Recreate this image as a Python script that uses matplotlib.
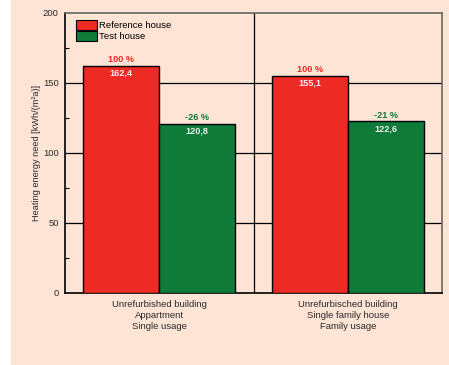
import matplotlib.pyplot as plt
from matplotlib.patches import Rectangle
import numpy as np

plt.rcParams['font.family'] = ['Liberation Sans', 'DejaVu Sans']

# data
categories = ['Unrefurbished building\nAppartment\nSingle usage',
              'Unrefurbisched building\nSingle family house\nFamily usage']
reference = [162.4, 155.1]
test = [120.8, 122.6]
ref_pct = ['100 %', '100 %']
test_pct = ['-26 %', '-21 %']

RED = '#ee2a24'
GREEN = '#107a38'
BG = '#fde4d4'
TXT = '#2a2a2a'

fig = plt.figure(figsize=(4.49, 3.65), dpi=100)
fig.patch.set_facecolor('white')
# peach panel behind everything, white strip on the left
fig.patches.append(Rectangle((11 / 449, 0), 1, 1, transform=fig.transFigure,
                             facecolor=BG, edgecolor='none', zorder=-10))

ax = fig.add_axes([65 / 449, 72 / 365, 377 / 449, 280 / 365])
ax.set_facecolor(BG)

x = np.arange(len(categories))
w = 0.404
ax.bar(x - w / 2, reference, w, color=RED, edgecolor='black', linewidth=1.0,
       label='Reference house', zorder=3)
ax.bar(x + w / 2, test, w, color=GREEN, edgecolor='black', linewidth=1.0,
       label='Test house', zorder=3)

for i in range(len(categories)):
    ax.text(x[i] - w / 2, reference[i] + 1.0, ref_pct[i], ha='center', va='bottom',
            color=RED, fontsize=6.6, fontweight='bold', zorder=4)
    ax.text(x[i] - w / 2, reference[i] - 2.0, ('%.1f' % reference[i]).replace('.', ','),
            ha='center', va='top', color='#f4ecec', fontsize=6.6, fontweight='bold', zorder=4)
    ax.text(x[i] + w / 2, test[i] + 1.0, test_pct[i], ha='center', va='bottom',
            color=GREEN, fontsize=6.6, fontweight='bold', zorder=4)
    ax.text(x[i] + w / 2, test[i] - 2.0, ('%.1f' % test[i]).replace('.', ','),
            ha='center', va='top', color='#e8f0ea', fontsize=6.6, fontweight='bold', zorder=4)

# grid and separator
for yv in [50, 100, 150]:
    ax.axhline(yv, color='black', linewidth=0.9, zorder=1)
ax.axvline(0.5, color='black', linewidth=0.9, zorder=1)

ax.set_xlim(-0.5, 1.5)
ax.set_ylim(0, 200)
ax.set_yticks([0, 50, 100, 150, 200])
ax.set_yticks([25, 75, 125, 175], minor=True)
ax.tick_params(axis='y', which='major', length=0, labelsize=6.8, pad=4.5, labelcolor=TXT)
ax.tick_params(axis='y', which='minor', direction='in', length=3, width=0.8)
ax.set_xticks(x)
ax.set_xticklabels(categories, fontsize=6.8, color=TXT, linespacing=1.3)
ax.tick_params(axis='x', length=0, pad=5)

for side in ['left', 'bottom']:
    ax.spines[side].set_linewidth(1.2)
    ax.spines[side].set_color('black')
for side in ['top', 'right']:
    ax.spines[side].set_linewidth(1.2)
    ax.spines[side].set_color('#666666')

ax.set_ylabel('Heating energy need [kWh/(m²a)]', fontsize=6.6, color=TXT, labelpad=1.5)

leg = ax.legend(loc='upper left', bbox_to_anchor=(0.011, 0.999), frameon=False, fontsize=6.8,
                handlelength=2.25, handleheight=1.25, handletextpad=0.25,
                labelspacing=0.05, borderpad=0.2)
for h in leg.legend_handles:
    h.set_linewidth(0.8)

fig.savefig('out.png', dpi=100, facecolor=fig.get_facecolor())
